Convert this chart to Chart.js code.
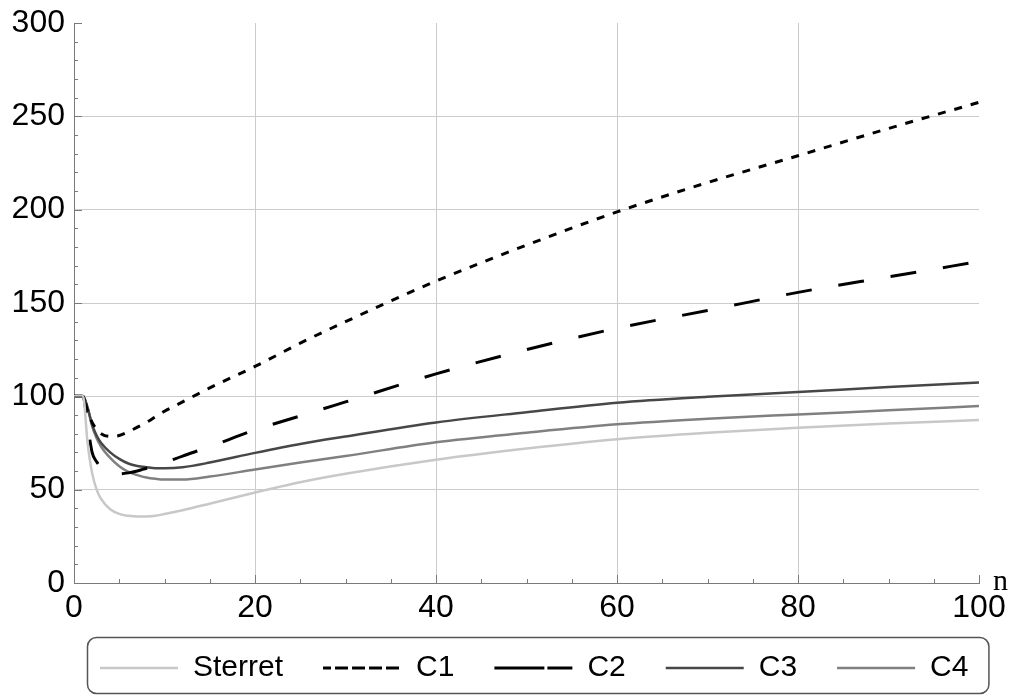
<!DOCTYPE html>
<html>
<head>
<meta charset="utf-8">
<script src="https://cdn.jsdelivr.net/npm/chart.js@4/dist/chart.umd.min.js"></script>
<style>
  html, body { margin: 0; padding: 0; background: #fff; }
  #wrap { width: 1018px; height: 695px; }
</style>
</head>
<body>
<div id="wrap"><canvas id="ratio_chart"></canvas></div>
<script>
// n values shared by all curves
var nValues = [0, 1, 1.5, 2, 2.5, 3, 4, 5, 6, 7, 8, 9, 10, 12, 15, 20, 25, 30, 40, 50, 60, 70, 80, 90, 100];

var sterret = [100, 100, 75, 59, 50, 45, 39.5, 37, 36, 35.6, 35.6, 36, 37, 39, 42.5, 48.5, 54, 58.5, 66, 72, 77, 80.5, 83.2, 85.5, 87.3];
var c1 = [100, 100, 92, 86, 82.5, 80, 78.5, 79, 81, 83.5, 86, 89, 92, 97, 104.5, 116, 128.5, 140, 161.7, 181, 198.8, 214.5, 228.9, 243.5, 257.5];
var c2 = [100, 100, 85, 70, 65, 62, 59, 58.5, 59, 60, 61.5, 63, 64.5, 68, 73, 82, 89.5, 97, 112, 125, 136.5, 146, 155.7, 164, 172.2];
var c3 = [100, 100, 94, 85, 79, 75, 70, 66.5, 64, 62.7, 62, 61.5, 61.5, 62, 64.5, 69.7, 74.5, 78.5, 86, 91.5, 96.6, 99.8, 102.3, 105, 107.4];
var c4 = [100, 100, 94, 84, 77.5, 73, 67, 62.5, 59.5, 57.8, 56.5, 55.8, 55.4, 55.4, 57, 60.8, 64.5, 68, 75.4, 80.5, 85, 88, 90.3, 92.5, 94.8];

var seriesNames = ["Sterret", "C1", "C2", "C3", "C4"];
var xTicks = [0, 20, 40, 60, 80, 100];
var yTicks = [0, 50, 100, 150, 200, 250, 300];

var FONT = "'Liberation Sans', Arial, sans-serif";

function points(ys) {
    return nValues.map(function (n, i) { return { x: n, y: ys[i] }; });
}

function line(label, ys, color, width, dash) {
    return {
        label: label,
        data: points(ys),
        borderColor: color,
        backgroundColor: color,
        borderWidth: width,
        borderDash: dash,
        pointRadius: 0,
        fill: false,
        cubicInterpolationMode: "monotone",
    };
}

// inward tick marks, the "n" axis label and the rounded legend frame
var axisExtras = {
    id: "axisExtras",
    afterInit: function (chart) {
        var legend = chart.legend;
        var fit = legend.fit;
        legend.fit = function () {
            var mw = this.maxWidth;
            this.maxWidth = 3000;
            fit.call(this);
            this.maxWidth = mw;
            this.width = mw;
            this.height = 72;
        };
    },
    afterLayout: function (chart) {
        // legend row starts under the plot, a bit lower than the layout puts it
        var legend = chart.legend;
        legend.left = 60;
        legend.top = chart.chartArea.bottom + 30;
        legend.height = chart.height - legend.top;
        legend.bottom = chart.height;
    },
    afterDraw: function (chart) {
        var ctx = chart.ctx;
        var xs = chart.scales.x, ys = chart.scales.y;
        var area = chart.chartArea;
        ctx.save();
        ctx.strokeStyle = "#7a7a7a";
        ctx.lineWidth = 1;
        ctx.beginPath();
        for (var v = 0; v <= 300; v += 10) {
            var py = Math.round(ys.getPixelForValue(v)) + 0.5;
            var len = v % 50 === 0 ? 8 : 4;
            ctx.moveTo(area.left, py);
            ctx.lineTo(area.left + len, py);
        }
        for (var u = 0; u <= 100; u += 5) {
            var px = Math.round(xs.getPixelForValue(u)) + 0.5;
            var l2 = u % 20 === 0 ? 8 : 4;
            ctx.moveTo(px, area.bottom);
            ctx.lineTo(px, area.bottom - l2);
        }
        ctx.stroke();

        ctx.fillStyle = "#000";
        ctx.font = "30px 'Liberation Serif', 'Times New Roman', serif";
        ctx.textAlign = "left";
        ctx.textBaseline = "alphabetic";
        ctx.fillText("n", area.right + 14, area.bottom + 7);

        var boxes = chart.legend.legendHitBoxes;
        if (boxes && boxes.length) {
            var first = boxes[0], last = boxes[boxes.length - 1];
            var left = first.left - 12.5;
            var right = last.left + last.width + 20.5;
            var top = first.top - 15.5;
            var bottom = chart.height - 1.5;
            var r = 9;
            ctx.strokeStyle = "#555";
            ctx.lineWidth = 1.5;
            ctx.beginPath();
            ctx.moveTo(left + r, top);
            ctx.lineTo(right - r, top);
            ctx.arcTo(right, top, right, top + r, r);
            ctx.lineTo(right, bottom - r);
            ctx.arcTo(right, bottom, right - r, bottom, r);
            ctx.lineTo(left + r, bottom);
            ctx.arcTo(left, bottom, left, bottom - r, r);
            ctx.lineTo(left, top + r);
            ctx.arcTo(left, top, left + r, top, r);
            ctx.stroke();
        }
        ctx.restore();
    },
};

var ctx = document.getElementById("ratio_chart");
var ratioChart = new Chart(ctx, {
    type: "line",
    data: {
        datasets: [
            line(seriesNames[0], sterret, "#c8c8c8", 2.5, []),
            line(seriesNames[1], c1, "#000000", 3, [8, 9]),
            line(seriesNames[2], c2, "#000000", 3, [26, 27]),
            line(seriesNames[3], c3, "#474747", 2.5, []),
            line(seriesNames[4], c4, "#808080", 2.5, []),
        ],
    },
    options: {
        responsive: true,
        maintainAspectRatio: false,
        animation: false,
        layout: { padding: { left: 0, right: 0, top: 23, bottom: 0 } },
        plugins: {
            tooltip: { enabled: false },
            legend: {
                position: "bottom",
                align: "start",
                labels: {
                    boxWidth: 78,
                    boxHeight: 0,
                    padding: 40,
                    color: "#000",
                    font: { family: FONT, size: 30 },
                },
            },
        },
        scales: {
            x: {
                type: "linear",
                min: 0,
                max: 100,
                afterFit: function (s) { s.height = 40; s.paddingRight = 0; s.paddingLeft = 0; },
                afterBuildTicks: function (s) { s.ticks = xTicks.map(function (v) { return { value: v }; }); },
                grid: {
                    color: function (c) { return c.tick && (c.tick.value === 0 || c.tick.value === 100) ? "rgba(0,0,0,0)" : "#cccccc"; },
                    drawTicks: false,
                    lineWidth: 1,
                },
                border: { color: "#7a7a7a", width: 1 },
                ticks: { color: "#000", padding: 6, maxRotation: 0, font: { family: FONT, size: 32 } },
            },
            y: {
                type: "linear",
                min: 0,
                max: 300,
                afterFit: function (s) { s.width = 74; s.paddingTop = 0; s.paddingBottom = 0; },
                afterBuildTicks: function (s) { s.ticks = yTicks.map(function (v) { return { value: v }; }); },
                grid: {
                    color: function (c) { return c.tick && (c.tick.value === 0 || c.tick.value === 300) ? "rgba(0,0,0,0)" : "#cccccc"; },
                    drawTicks: false,
                    lineWidth: 1,
                },
                border: { color: "#7a7a7a", width: 1 },
                ticks: { color: "#000", padding: 9, font: { family: FONT, size: 32 } },
            },
            // empty axis on the right, only reserves room after n = 100
            yRight: {
                type: "linear",
                position: "right",
                afterFit: function (s) { s.width = 39; },
                grid: { display: false },
                border: { display: false },
                ticks: { display: false },
            },
        },
    },
    plugins: [axisExtras],
});
</script>
</body>
</html>
